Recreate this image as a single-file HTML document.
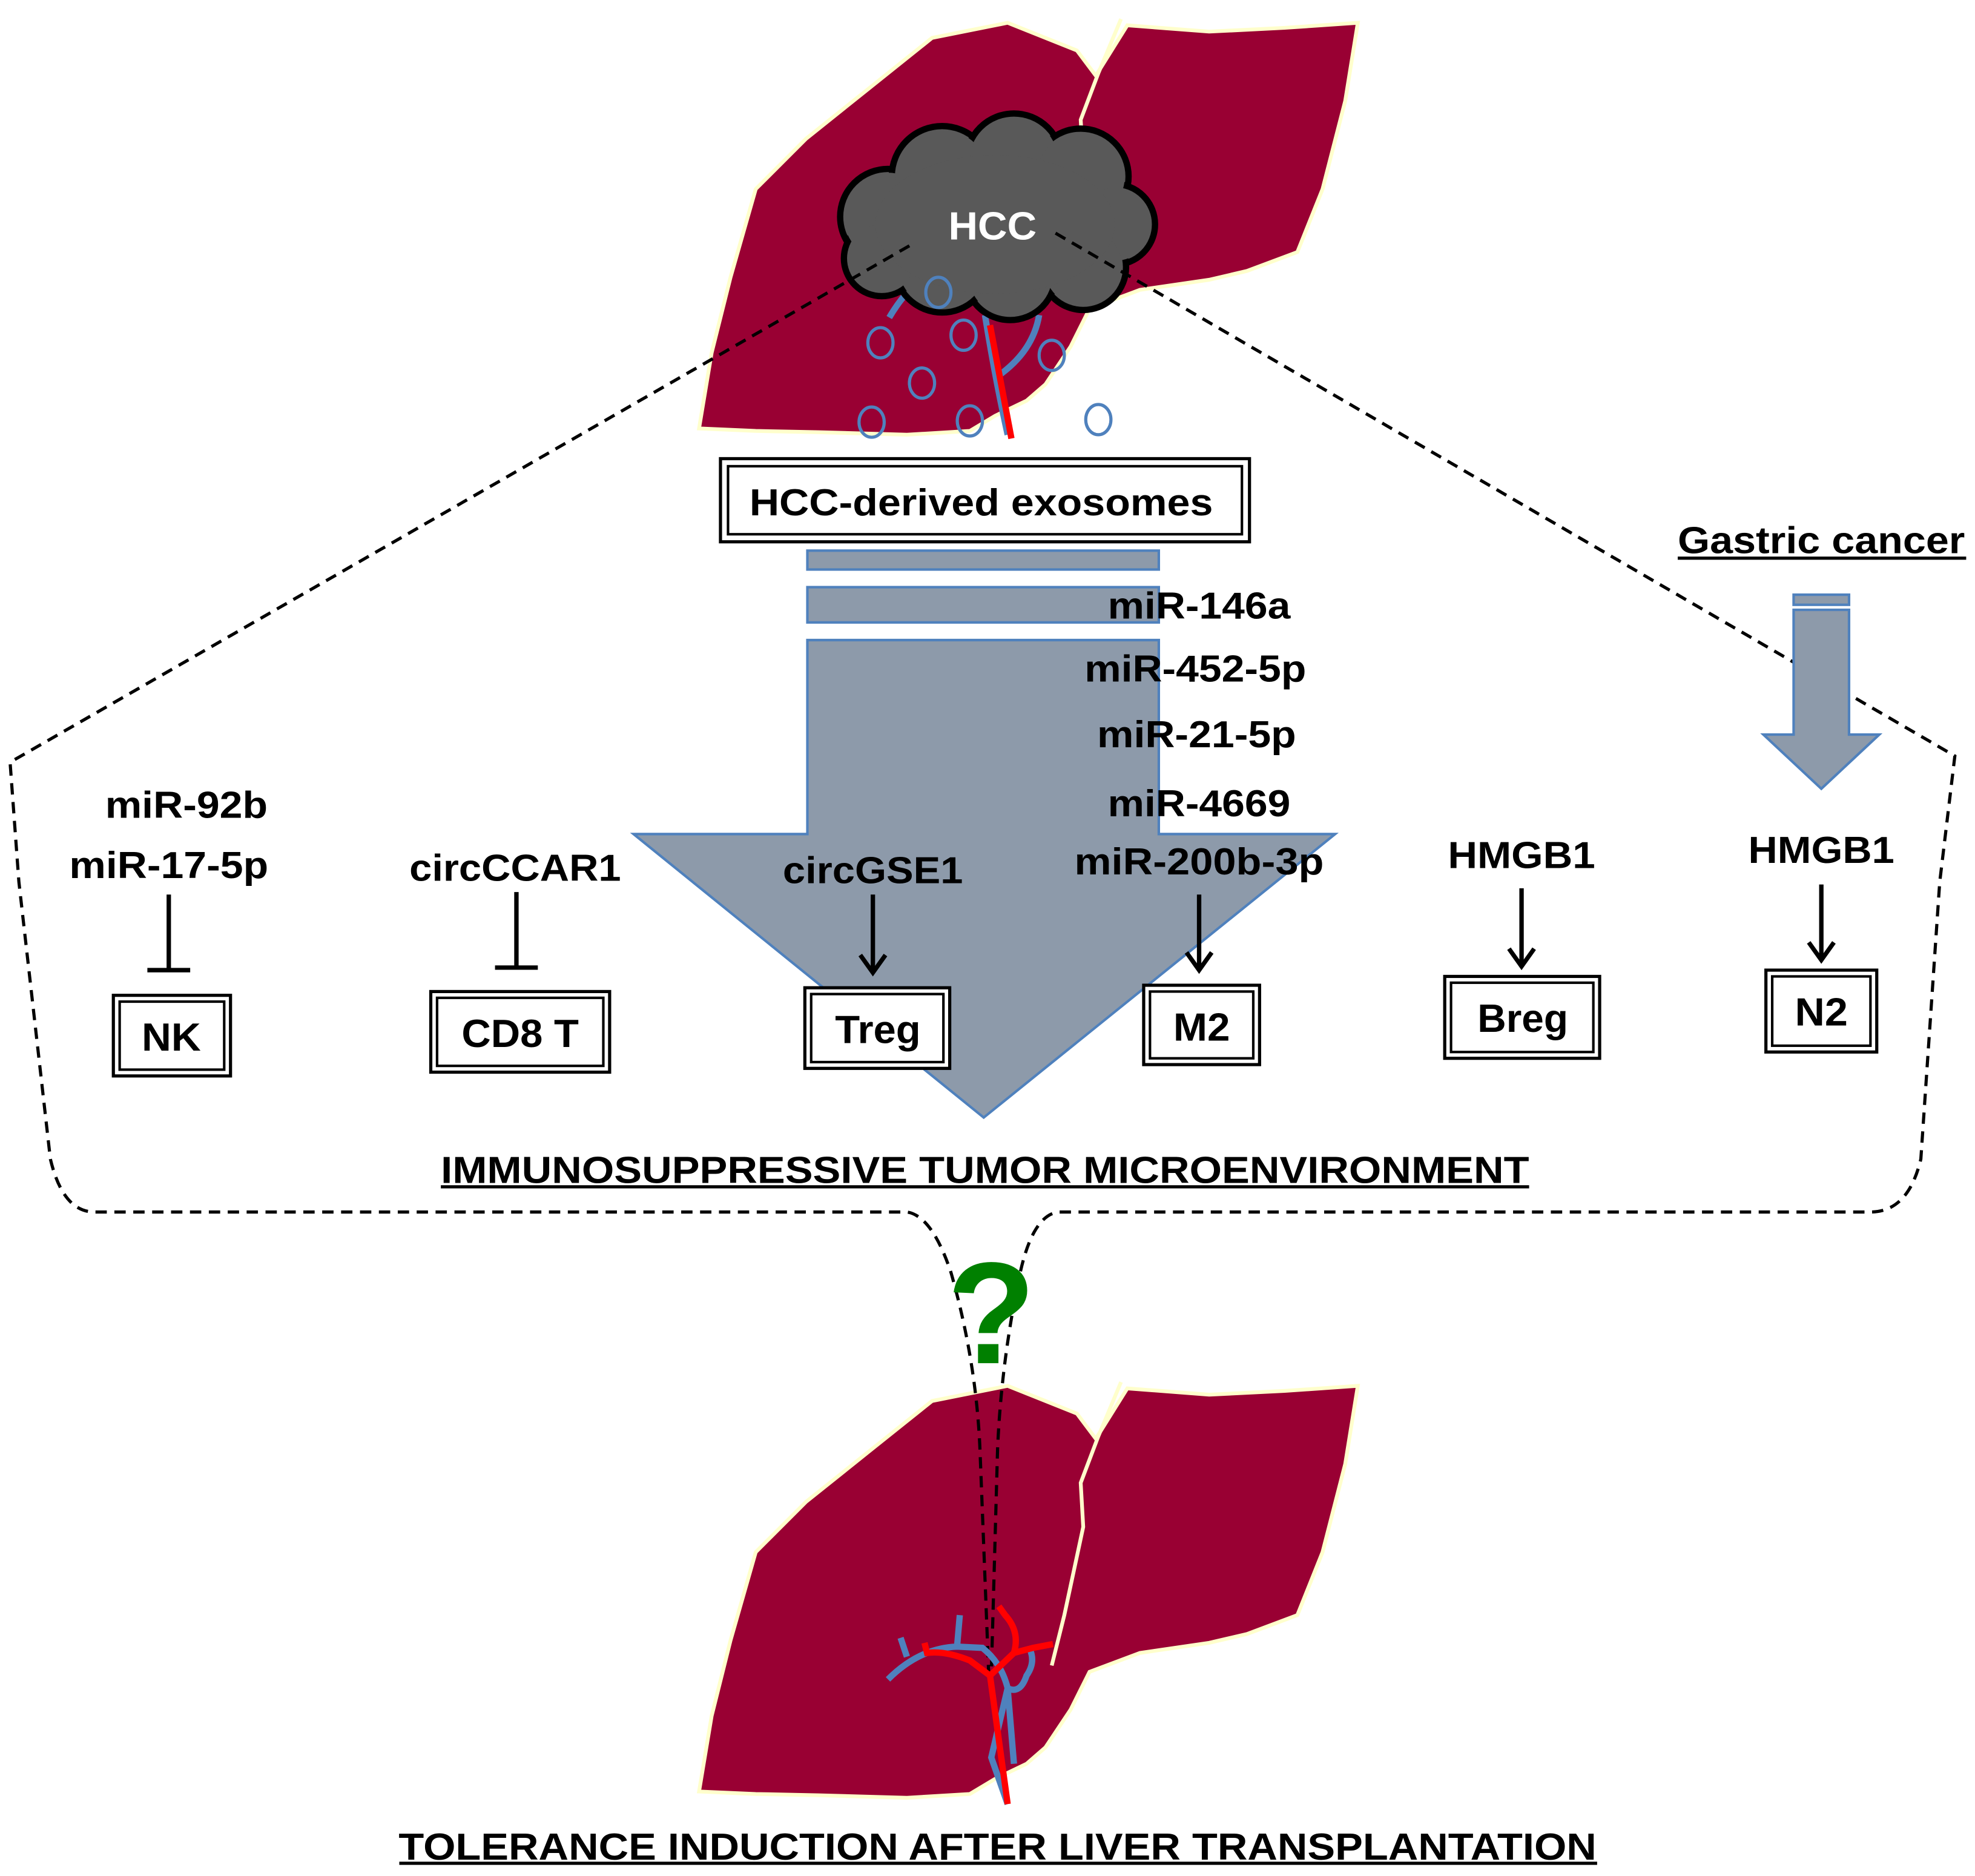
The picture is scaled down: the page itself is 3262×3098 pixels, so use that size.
<!DOCTYPE html>
<html><head><meta charset="utf-8"><style>html,body{margin:0;padding:0;background:#fff}svg{display:block}</style></head><body>
<svg width="3262" height="3098" viewBox="0 0 1568 1489" xmlns="http://www.w3.org/2000/svg" font-family="Liberation Sans, Arial, sans-serif" font-weight="bold">
<defs>
<path id="liver" d="M555,340 L565,280 L580,220 L600,150 L640,110 L690,70 L740,30 L800,18 L855,40 L870,60 L895,20 L960,25 L1020,22 L1078,18 L1068,80 L1050,150 L1030,200 L990,215 L960,222 L905,230 L865,245 L850,275 L830,305 L815,318 L790,330 L770,342 L720,345 L650,343 L600,342 Z"/>
</defs>
<use href="#liver" fill="#990033" stroke="#ffffcc" stroke-width="3"/>
<path d="M890,15 L872,58 L858,95 L860,130 L852,170" fill="none" stroke="#ffffcc" stroke-width="3"/>
<g transform="translate(0,1082)">
<use href="#liver" fill="#990033" stroke="#ffffcc" stroke-width="3"/>
<path d="M890,15 L872,58 L858,95 L860,130 L845,200 L835,240" fill="none" stroke="#ffffcc" stroke-width="3"/>
</g>
<g fill="none">
<path d="M706,252 Q720,228 740,215" stroke="#4f81bd" stroke-width="5"/>
<path d="M782,250 Q790,300 800,345" stroke="#4f81bd" stroke-width="5"/>
<path d="M790,300 Q820,280 825,250" stroke="#4f81bd" stroke-width="5"/>
<path d="M786,258 L803,348" stroke="#ff0000" stroke-width="5"/>
</g>
<g fill="#595959" stroke="#000" stroke-width="5">
<circle cx="705" cy="172" r="38"/><circle cx="748" cy="140" r="40"/><circle cx="805" cy="128" r="38"/><circle cx="858" cy="140" r="38"/><circle cx="885" cy="178" r="32"/><circle cx="860" cy="212" r="34"/><circle cx="802" cy="218" r="36"/><circle cx="748" cy="210" r="38"/><circle cx="700" cy="205" r="30"/>
</g>
<g fill="#595959">
<circle cx="705" cy="172" r="35"/><circle cx="748" cy="140" r="37"/><circle cx="805" cy="128" r="35"/><circle cx="858" cy="140" r="35"/><circle cx="885" cy="178" r="29"/><circle cx="860" cy="212" r="31"/><circle cx="802" cy="218" r="33"/><circle cx="748" cy="210" r="35"/><circle cx="700" cy="205" r="27"/><ellipse cx="790" cy="178" rx="95" ry="55"/>
</g>
<text x="788" y="190" font-size="31" fill="#fff" text-anchor="middle" textLength="70" lengthAdjust="spacingAndGlyphs">HCC</text>
<g fill="none" stroke="#4f81bd" stroke-width="2.5">
<ellipse cx="745" cy="232" rx="10" ry="12"/><ellipse cx="699" cy="272" rx="10" ry="12"/><ellipse cx="765" cy="266" rx="10" ry="12"/><ellipse cx="732" cy="304" rx="10" ry="12"/><ellipse cx="835" cy="282" rx="10" ry="12"/><ellipse cx="692" cy="335" rx="10" ry="12"/><ellipse cx="770" cy="334" rx="10" ry="12"/><ellipse cx="872" cy="333" rx="10" ry="12"/>
</g>
<g fill="none" stroke="#000" stroke-width="2.5" stroke-dasharray="9,6">
<path d="M722,195 L8,605 L15,700 L40,920 Q50,962 75,962 L720,962 Q740,965 755,1010 Q775,1080 778,1150 L785,1330"/>
<path d="M838,185 L1552,600 L1540,700 L1525,920 Q1515,962 1485,962 L840,962 Q820,965 810,1010 Q795,1080 792,1150 L787,1330"/>
</g>
<rect x="572" y="364" width="420" height="66" fill="#fff" stroke="#000" stroke-width="2.5"/>
<rect x="578" y="370" width="408" height="54" fill="none" stroke="#000" stroke-width="2"/>
<text x="779" y="409" font-size="30" text-anchor="middle" textLength="368" lengthAdjust="spacingAndGlyphs">HCC-derived exosomes</text>
<g fill="#8d9aaa" stroke="#4f81bd" stroke-width="2">
<rect x="641" y="437" width="279" height="15"/>
<rect x="641" y="466" width="279" height="28"/>
<path d="M641,508 L920,508 L920,662 L1060,662 L781,887 L503,662 L641,662 Z"/>
<rect x="1424" y="472" width="44" height="8"/>
<path d="M1424,484 L1468,484 L1468,583 L1492,583 L1446,626 L1400,583 L1424,583 Z"/>
</g>
<g font-size="30" text-anchor="middle" lengthAdjust="spacingAndGlyphs">
<text x="952" y="491" textLength="145" lengthAdjust="spacingAndGlyphs">miR-146a</text>
<text x="949" y="541" textLength="176" lengthAdjust="spacingAndGlyphs">miR-452-5p</text>
<text x="950" y="593" textLength="158" lengthAdjust="spacingAndGlyphs">miR-21-5p</text>
<text x="952" y="648" textLength="145" lengthAdjust="spacingAndGlyphs">miR-4669</text>
<text x="952" y="694" textLength="198" lengthAdjust="spacingAndGlyphs">miR-200b-3p</text>
<text x="1446" y="439" textLength="228" lengthAdjust="spacingAndGlyphs">Gastric cancer</text>
<text x="148" y="649" textLength="129" lengthAdjust="spacingAndGlyphs">miR-92b</text>
<text x="134" y="697" textLength="158" lengthAdjust="spacingAndGlyphs">miR-17-5p</text>
<text x="409" y="699" textLength="168" lengthAdjust="spacingAndGlyphs">circCCAR1</text>
<text x="693" y="701" textLength="143" lengthAdjust="spacingAndGlyphs">circGSE1</text>
<text x="1208" y="689" textLength="117" lengthAdjust="spacingAndGlyphs">HMGB1</text>
<text x="1446" y="685" textLength="116" lengthAdjust="spacingAndGlyphs">HMGB1</text>
<text x="782" y="939" textLength="864" lengthAdjust="spacingAndGlyphs">IMMUNOSUPPRESSIVE TUMOR MICROENVIRONMENT</text>
<text x="792" y="1476" textLength="951" lengthAdjust="spacingAndGlyphs">TOLERANCE INDUCTION AFTER LIVER TRANSPLANTATION</text>
</g>
<g stroke="#000" stroke-width="2.5">
<line x1="1332" y1="443" x2="1561" y2="443"/>
<line x1="350" y1="942" x2="1214" y2="942"/>
<line x1="317" y1="1479" x2="1268" y2="1479"/>
</g>
<g stroke="#000" stroke-width="3.5" fill="none">
<line x1="134" y1="710" x2="134" y2="770"/><line x1="117" y1="770" x2="151" y2="770"/>
<line x1="410" y1="708" x2="410" y2="768"/><line x1="393" y1="768" x2="427" y2="768"/>
<line x1="693" y1="710" x2="693" y2="770"/><path d="M683,758 L693,772 L703,758"/>
<line x1="952" y1="710" x2="952" y2="768"/><path d="M942,756 L952,770 L962,756"/>
<line x1="1208" y1="705" x2="1208" y2="765"/><path d="M1198,753 L1208,767 L1218,753"/>
<line x1="1446" y1="702" x2="1446" y2="760"/><path d="M1436,748 L1446,762 L1456,748"/>
</g>
<g fill="#fff" stroke="#000" stroke-width="2.5">
<rect x="90" y="790" width="93" height="64"/><rect x="342" y="787" width="142" height="64"/><rect x="639" y="784" width="115" height="64"/><rect x="908" y="782" width="92" height="63"/><rect x="1147" y="775" width="123" height="65"/><rect x="1402" y="770" width="88" height="65"/>
</g>
<g fill="none" stroke="#000" stroke-width="2">
<rect x="95" y="795" width="83" height="54"/><rect x="347" y="792" width="132" height="54"/><rect x="644" y="789" width="105" height="54"/><rect x="913" y="787" width="82" height="53"/><rect x="1152" y="780" width="113" height="55"/><rect x="1407" y="775" width="78" height="55"/>
</g>
<g font-size="31" text-anchor="middle">
<text x="136" y="834" textLength="47" lengthAdjust="spacingAndGlyphs">NK</text>
<text x="413" y="831" textLength="93" lengthAdjust="spacingAndGlyphs">CD8 T</text>
<text x="697" y="828" textLength="68" lengthAdjust="spacingAndGlyphs">Treg</text>
<text x="954" y="826" textLength="45" lengthAdjust="spacingAndGlyphs">M2</text>
<text x="1209" y="819" textLength="72" lengthAdjust="spacingAndGlyphs">Breg</text>
<text x="1446" y="814" textLength="42" lengthAdjust="spacingAndGlyphs">N2</text>
</g>
<text x="787" y="1082" font-size="115" fill="#008000" text-anchor="middle">?</text>
<g fill="none" stroke-width="5">
<path d="M705,1333 Q730,1308 760,1307 L780,1308 Q795,1320 800,1340 L805,1400" stroke="#4f81bd"/>
<path d="M800,1340 Q810,1345 815,1330 Q822,1320 818,1310" stroke="#4f81bd"/>
<path d="M800,1340 L787,1395 L800,1432" stroke="#4f81bd"/>
<path d="M715,1300 L720,1315" stroke="#4f81bd"/>
<path d="M760,1305 L762,1282" stroke="#4f81bd"/>
<path d="M734,1304 L736,1312 Q750,1310 770,1318 L786,1330 L805,1312 L820,1308 L836,1305" stroke="#ff0000"/>
<path d="M786,1330 L800,1432" stroke="#ff0000"/>
<path d="M805,1312 Q810,1295 798,1282 L793,1275" stroke="#ff0000"/>
</g>
</svg>
</body></html>
